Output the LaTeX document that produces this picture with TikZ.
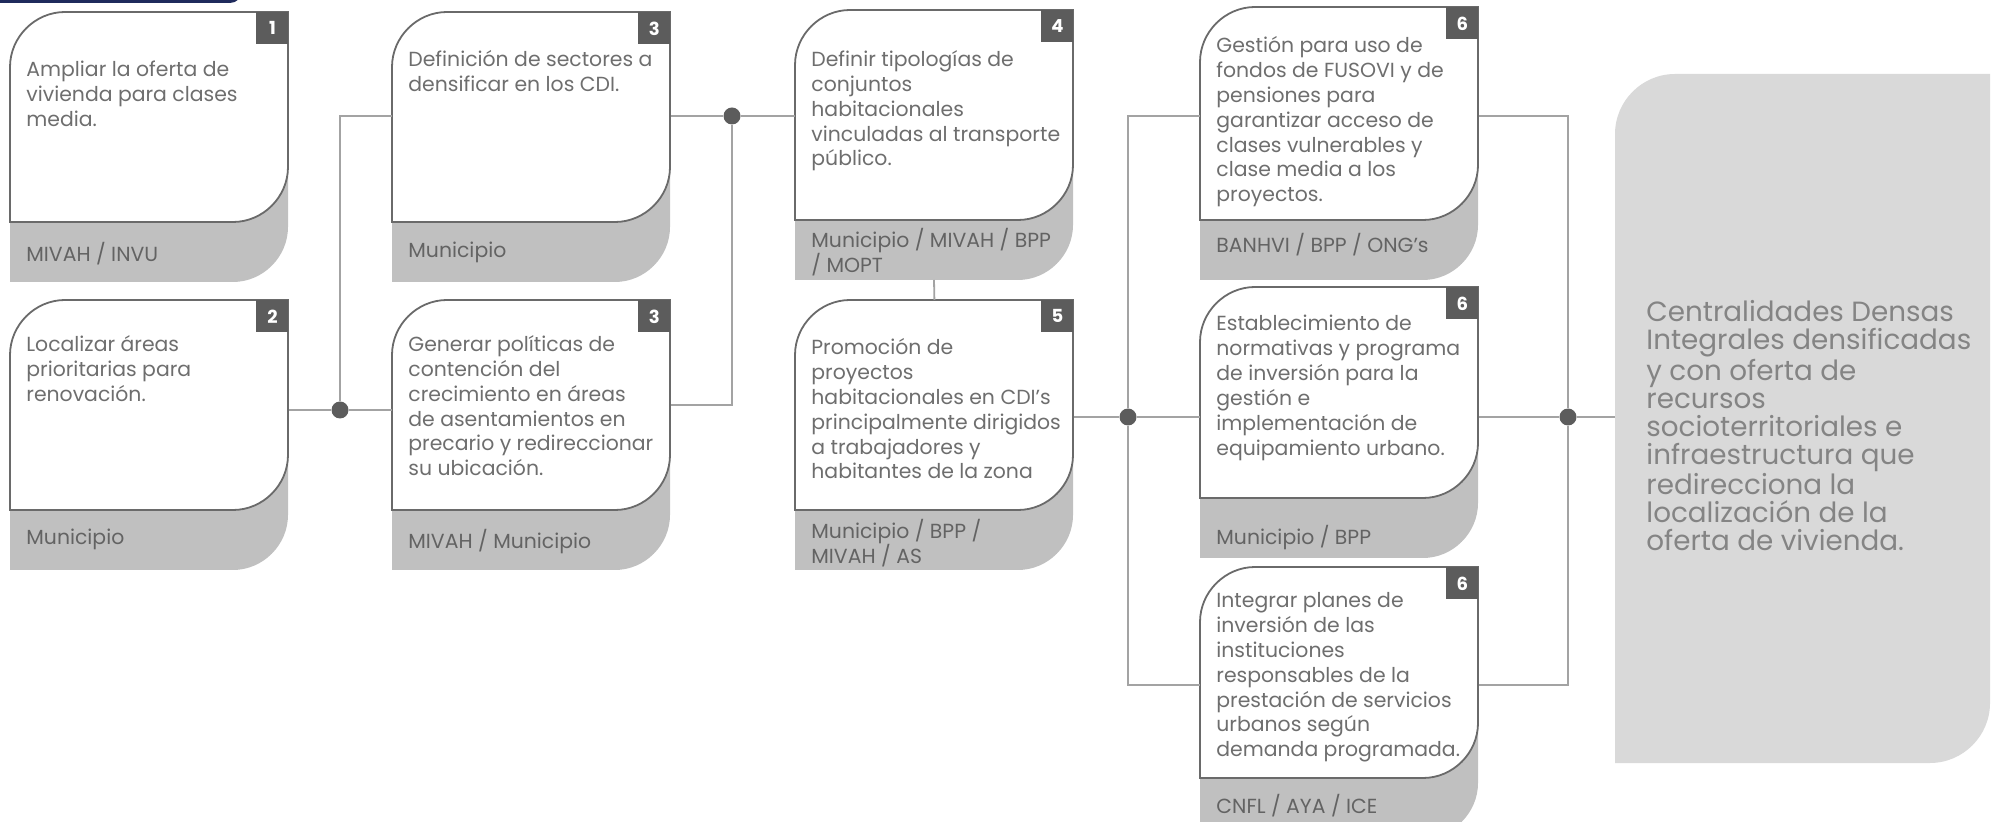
\documentclass[tikz,border=0pt]{standalone}
\usepackage{fontspec}
\setmainfont{Poppins}
\usetikzlibrary{positioning,calc}

\definecolor{cardline}{HTML}{6A6A6A}
\definecolor{bandgray}{HTML}{C0C0C0}
\definecolor{numgray}{HTML}{5C5C5C}
\definecolor{txtgray}{HTML}{6E6E6E}
\definecolor{linkgray}{HTML}{A3A3A3}
\definecolor{goalgray}{HTML}{D9D9D9}
\definecolor{navy}{HTML}{1F2A5C}

\tikzset{
	cardedge/.style={fill=white, draw=cardline, line width=0.9pt},
	cardbody/.style={minimum width=139pt, inner sep=0pt, anchor=north west},
	cardtext/.style={anchor=north west, align=left, inner sep=0pt, text=txtgray,
		font=\fontsize{10.2}{12.45}\selectfont},
	agencytext/.style={anchor=north west, align=left, inner sep=0pt, text=txtgray!90!black,
		font=\fontsize{10.2}{12.6}\selectfont},
	numbox/.style={fill=numgray, text=white, anchor=north east, minimum width=16pt,
		minimum height=16pt, inner sep=0pt, font=\bfseries\fontsize{9}{9}\selectfont},
	link/.style={draw=linkgray, line width=0.9pt},
	joint/.style={circle, fill=numgray, minimum size=8.5pt, inner sep=0pt},
	goaltext/.style={anchor=north west, align=left, inner sep=0pt, text=txtgray!85,
		font=\fontsize{13.9}{14}\selectfont}
}

% card: #1 name, #2 shift, #3 white height, #4 number, #5 text drop, #6 text, #7 agency drop, #8 agency
\newcommand{\drawcard}[8]{%
	\begin{scope}[shift={#2}]
		% gray band under the card
		\fill[bandgray] (0,140) -- (278,140) -- (278,#3+5)
		.. controls (278,#3+35) and (253,#3+60) .. (223,#3+60) -- (0,#3+60) -- cycle;
		% white card
		\filldraw[cardedge] (0,#3) -- (0,55) .. controls (0,25) and (25,0) .. (55,0)
		-- (278,0) -- (278,#3-55) .. controls (278,#3-25) and (253,#3) .. (223,#3) -- cycle;
		\node[cardbody, minimum height=#3*0.5pt] (#1) at (0,0) {};
		\node[numbox] (#1-n) at (#1.north east) {#4};
		\node[cardtext] (#1-t) at (16,#5) {#6};
		\node[agencytext] (#1-a) at (16,#3+#7) {#8};
		\coordinate (#1-b) at (139,#3+60);
	\end{scope}}

\begin{document}
\begin{tikzpicture}[x=0.5pt, y=-0.5pt]
	\useasboundingbox (0,0) rectangle (2001,822);
	% header bar cut at the top
	\fill[navy, rounded corners=6pt] (-20,-30) rectangle (242,3);

	% cards
	\drawcard{c1}{(10,12)}{210}{1}{49}{Ampliar la oferta de\\vivienda para clases\\media.}{20}{MIVAH / INVU}
	\drawcard{c2}{(10,300)}{210}{2}{35}{Localizar áreas\\prioritarias para\\renovación.}{19}{Municipio}
	\drawcard{c3}{(392,12)}{210}{3}{38}{Definición de sectores a\\densificar en los CDI.}{20}{Municipio}
	\drawcard{c3b}{(392,300)}{210}{3}{35}{Generar políticas de\\contención del\\crecimiento en áreas\\de asentamientos en\\precario y redireccionar\\su ubicación.}{19}{MIVAH / Municipio}
	\drawcard{c4}{(795,10)}{210}{4}{40}{Definir tipologías de\\conjuntos\\habitacionales\\vinculadas al transporte\\público.}{8}{Municipio / MIVAH / BPP\\/ MOPT}
	\drawcard{c5}{(795,300)}{210}{5}{38}{Promoción de\\proyectos\\habitacionales en CDI's\\principalmente dirigidos\\a trabajadores y\\habitantes de la zona}{9}{Municipio / BPP /\\MIVAH / AS}
	\drawcard{c6a}{(1200,7)}{213}{6}{29}{Gestión para uso de\\fondos de FUSOVI y de\\pensiones para\\garantizar acceso de\\clases vulnerables y\\clase media a los\\proyectos.}{13}{BANHVI / BPP / ONG's}
	\drawcard{c6b}{(1200,287)}{211}{6}{28}{Establecimiento de\\normativas y programa\\de inversión para la\\gestión e\\implementación de\\equipamiento urbano.}{27}{Municipio / BPP}
	\drawcard{c6c}{(1200,567)}{211}{6}{25}{Integrar planes de\\inversión de las\\instituciones\\responsables de la\\prestación de servicios\\urbanos según\\demanda programada.}{16}{CNFL / AYA / ICE}

	% result box
	\fill[goalgray] (1615,763) -- (1615,134) .. controls (1615,101) and (1642,74) .. (1675,74)
	-- (1990,74) -- (1990,703) .. controls (1990,736) and (1963,763) .. (1930,763) -- cycle;
	\node[minimum width=187.5pt, minimum height=344.5pt, inner sep=0pt, anchor=north west] (goal) at (1615,74) {};
	\node[goaltext] (goal-t) at (1646,300) {Centralidades Densas\\Integrales densificadas\\y con oferta de\\recursos\\socioterritoriales e\\infraestructura que\\redirecciona la\\localización de la\\oferta de vivienda.};

	% joints
	\node[joint] (j1) at (340,410) {};
	\node[joint] (j2) at (732,116) {};
	\node[joint] (j3) at (1128,417) {};
	\node[joint] (j4) at (1568,417) {};
	\coordinate (toprow) at (0,116);
	\coordinate (lowrow) at (0,685);

	% Lines
	\draw[link] (c2.east |- j1) -- (j1) -- (c3b.west |- j1);
	\draw[link] (j1) |- (c3.west |- toprow);
	\draw[link] (c3.east |- j2) -- (j2) -- (c4.west |- j2);
	\draw[link] (c3b.east) -| (j2);
	\draw[link] (c4-b) -- (c5.north);
	\draw[link] (c5.east |- j3) -- (j3) -- (c6b.west |- j3);
	\draw[link] (c6a.west |- toprow) -| (j3) |- (c6c.west |- lowrow);
	\draw[link] (c6a.east |- toprow) -| (j4) |- (c6c.east |- lowrow);
	\draw[link] (c6b.east |- j4) -- (j4) -- (goal.west |- j4);
\end{tikzpicture}
\end{document}
